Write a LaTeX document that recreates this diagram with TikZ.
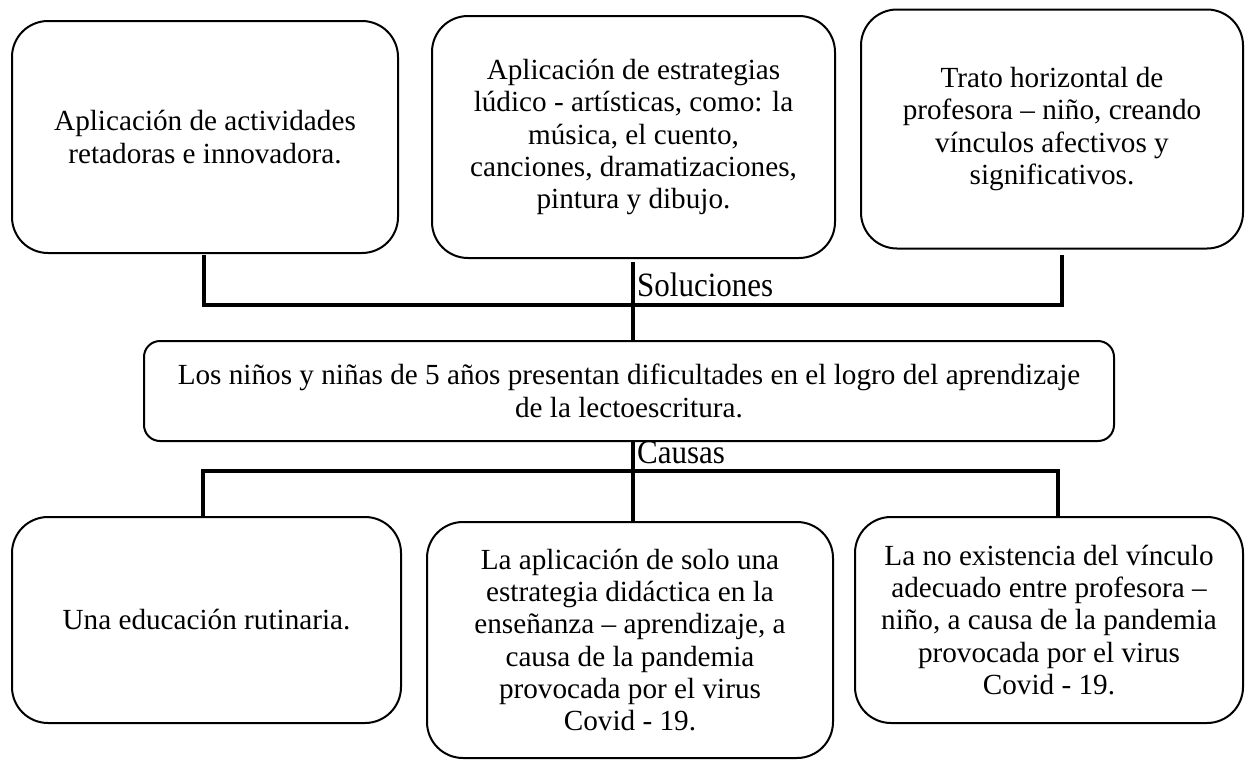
\documentclass[tikz,border=0pt]{standalone}
\usepackage{fontspec}
\setmainfont{Liberation Serif}
\begin{document}
\begin{tikzpicture}[x=1pt,y=-1pt,
  box/.style={draw=black, line width=2pt, rounded corners=36pt, inner sep=0pt, align=center,
    font=\fontsize{29.2}{32.3}\selectfont},
  midbox/.style={draw=black, line width=2pt, rounded corners=16pt, inner sep=0pt, align=center,
    font=\fontsize{29.2}{32.3}\selectfont},
  conn/.style={draw=black, line width=3.8pt},
  lab/.style={inner sep=0pt, font=\fontsize{31}{36}\selectfont}]
\useasboundingbox (0,0) rectangle (1248,761);

% top boxes (solutions)
\node[box, minimum width=386pt, minimum height=232pt] (b1) at (205,137)
  {Aplicación de actividades\\ retadoras e innovadora.};
\node[box, minimum width=403pt, minimum height=242pt] (b2) at (633.5,137)
  {Aplicación de estrategias\\ lúdico - artísticas, como: la\\ música, el cuento,\\ canciones, dramatizaciones,\\ pintura y dibujo.};
\node[box, minimum width=382pt, minimum height=239pt] (b3) at (1052,129)
  {Trato horizontal de\\ profesora – niño, creando\\ vínculos afectivos y\\ significativos.};

% central problem
\node[midbox, minimum width=970pt, minimum height=100pt] (m) at (629,391)
  {Los niños y niñas de 5 años presentan dificultades en el logro del aprendizaje\\ de la lectoescritura.};

% bottom boxes (causes)
\node[box, minimum width=389pt, minimum height=206pt] (c1) at (206.5,620)
  {Una educación rutinaria.};
\node[box, minimum width=406pt, minimum height=236pt] (c2) at (630,640)
  {La aplicación de solo una\\ estrategia didáctica en la\\ enseñanza – aprendizaje, a\\ causa de la pandemia\\ provocada por el virus\\ Covid - 19.};
\node[box, minimum width=388pt, minimum height=206pt] (c3) at (1049,620)
  {La no existencia del vínculo\\ adecuado entre profesora –\\ niño, a causa de la pandemia\\ provocada por el virus\\ Covid - 19.};

% upper connector
\coordinate (u1) at (204,255);
\coordinate (u1b) at (204,305);
\coordinate (u3) at (1062,255);
\coordinate (u3b) at (1062,305);
\coordinate (uc) at (633,262);
\draw[conn] (u1) -- (u1b) -- (u3b) -- (u3);
\draw[conn] (uc) -- (uc |- m.north);

% lower connector
\coordinate (l1) at (203,471);
\coordinate (l3) at (1058,471);
\draw[conn] (c1.north -| l1) -- (l1) -- (l3) -- (c3.north -| l3);
\draw[conn] (m.south -| uc) -- (c2.north -| uc);

% labels
\node[lab, anchor=base west] (sol) at (637,296) {\scalebox{1}[1.1]{Soluciones}};
\node[lab, anchor=base west] (cau) at (637,463) {\scalebox{1}[1.08]{Causas}};
\end{tikzpicture}
\end{document}
